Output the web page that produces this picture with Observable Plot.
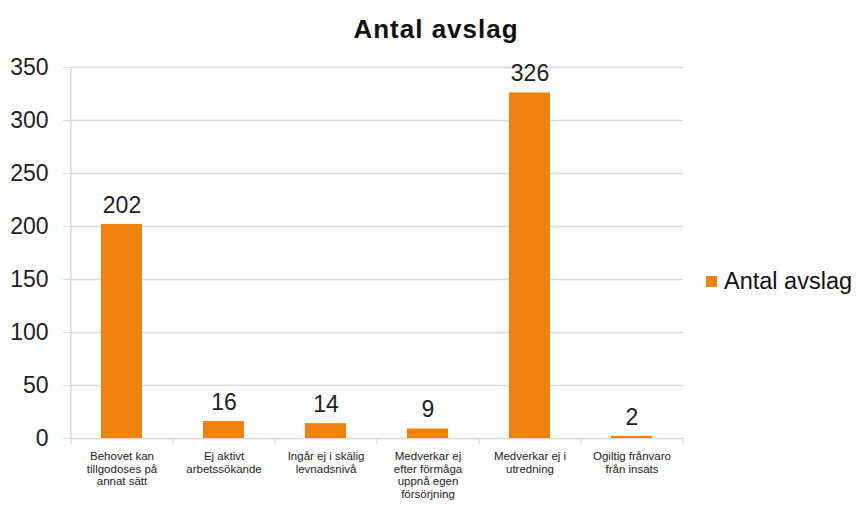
<!DOCTYPE html>
<html>
<head>
<meta charset="utf-8">
<script src="https://cdn.jsdelivr.net/npm/d3@7"></script>
<script src="https://cdn.jsdelivr.net/npm/@observablehq/plot@0.6"></script>
<style>
  html, body { margin: 0; padding: 0; background: #fff; }
  #wrap { position: relative; width: 856px; height: 506px; font-family: "Liberation Sans", Arial, sans-serif; }
  #title { position: absolute; left: 0; width: 872px; top: 14px; text-align: center; font-size: 26px; letter-spacing: 1px; font-weight: bold; color: #111; line-height: 30px; }
  #legend { position: absolute; left: 706px; top: 266px; font-size: 23.5px; color: #111; display: flex; align-items: center; line-height: 30px; }
  #legend .sw { width: 11px; height: 11px; background: #f0820f; margin-right: 7px; }
</style>
</head>
<body>
<div id="wrap">
  <div id="chart"></div>
  <div id="title">Antal avslag</div>
  <div id="legend"><span class="sw"></span><span>Antal avslag</span></div>
</div>
<script>
const categories = [
  "Behovet kan\ntillgodoses på\nannat sätt",
  "Ej aktivt\narbetssökande",
  "Ingår ej i skälig\nlevnadsnivå",
  "Medverkar ej\nefter förmåga\nuppnå egen\nförsörjning",
  "Medverkar ej i\nutredning",
  "Ogiltig frånvaro\nfrån insats"
];
const values = [202, 16, 14, 9, 326, 2];
const yTicks = [0, 50, 100, 150, 200, 250, 300, 350];

const data = categories.map((c, i) => ({category: c, value: values[i]}));
const color = "#f0820f";
const grid = "#d9d9d9";
const half = 613 / 6 / 2;

const chart = Plot.plot({
  width: 856,
  height: 506,
  marginLeft: 70,
  marginRight: 173,
  marginTop: 67,
  marginBottom: 68,
  style: {fontFamily: "'Liberation Sans', Arial, sans-serif", color: "#222", background: "#fff"},
  x: {domain: categories, paddingInner: 0.6, paddingOuter: 0.3, label: null},
  y: {domain: [0, 350], label: null},
  marks: [
    Plot.ruleY(yTicks, {stroke: grid, strokeWidth: 1.5}),
    Plot.ruleX([categories[0]], {x: d => d, dx: -half, stroke: grid, strokeWidth: 1.5}),
    Plot.barY(data, {x: "category", y: "value", fill: color}),
    Plot.ruleX(categories, {x: d => d, dx: -half, y1: 0, y2: 0, insetTop: 6, stroke: grid, strokeWidth: 1.2}),
    Plot.ruleX([categories[categories.length - 1]], {x: d => d, dx: half, y1: 0, y2: 0, insetTop: 6, stroke: grid, strokeWidth: 1.2}),
    Plot.text(data, {x: "category", y: "value", text: d => String(d.value), dy: -19, fontSize: 23, fill: "#222"}),
    Plot.axisY({ticks: yTicks, tickSize: 7, tickPadding: 15, fontSize: 23, stroke: grid, fill: "#222", label: null}),
    Plot.axisX({tickSize: 0, tickPadding: 13, fontSize: 11.5, lineHeight: 1.08, fill: "#222", label: null})
  ]
});
document.getElementById("chart").appendChild(chart);
</script>
</body>
</html>
